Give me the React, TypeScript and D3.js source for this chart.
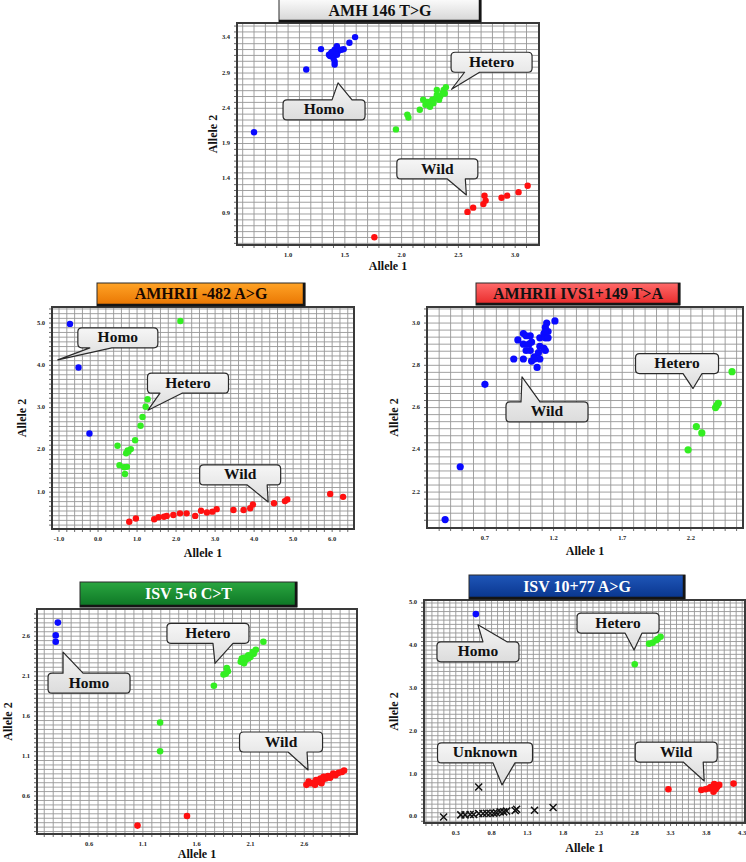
import React from 'react';
import * as d3 from 'd3';

type P = [number, number];

// AMH 146 T>G
const amhHomo: P[] = [[0.70, 2.06], [1.16, 2.95], [1.29, 3.24], [1.36, 3.16], [1.38, 3.19], [1.41, 3.23], [1.43, 3.28], [1.44, 3.21], [1.47, 3.23], [1.49, 3.24], [1.37, 3.14], [1.40, 3.11], [1.41, 3.06], [1.41, 3.02], [1.43, 3.16], [1.39, 3.20], [1.54, 3.33], [1.59, 3.41]];
const amhHetero: P[] = [[1.95, 2.10], [2.05, 2.31], [2.06, 2.27], [2.16, 2.38], [2.19, 2.52], [2.21, 2.45], [2.24, 2.47], [2.27, 2.52], [2.30, 2.54], [2.31, 2.59], [2.33, 2.52], [2.34, 2.57], [2.36, 2.61], [2.37, 2.66], [2.39, 2.70], [2.38, 2.61], [2.28, 2.47], [2.25, 2.42], [2.23, 2.49], [2.31, 2.66]];
const amhWild: P[] = [[1.76, 0.57], [2.58, 0.93], [2.63, 0.99], [2.72, 1.04], [2.73, 1.16], [2.74, 1.09], [2.88, 1.13], [2.93, 1.16], [3.03, 1.21], [3.11, 1.30]];

// AMHRII -482 A>G
const r482Homo: P[] = [[-0.72, 4.98], [-0.50, 3.95], [-0.22, 2.39]];
const r482Hetero: P[] = [[2.11, 5.05], [1.27, 3.20], [1.22, 3.02], [1.14, 2.78], [1.09, 2.57], [0.95, 2.23], [0.84, 2.02], [0.78, 1.96], [0.50, 2.10], [0.55, 1.64], [0.67, 1.59], [0.74, 1.60], [0.69, 1.43], [0.76, 1.99], [0.72, 1.92]];
const r482Wild: P[] = [[0.80, 0.30], [0.97, 0.38], [1.44, 0.36], [1.55, 0.41], [1.69, 0.42], [1.76, 0.44], [1.93, 0.46], [2.10, 0.50], [2.27, 0.50], [2.49, 0.44], [2.64, 0.56], [2.79, 0.52], [2.93, 0.54], [3.04, 0.60], [3.47, 0.58], [3.73, 0.58], [3.90, 0.62], [3.97, 0.71], [4.51, 0.74], [4.79, 0.79], [4.85, 0.83], [5.95, 0.96], [6.28, 0.89]];

// AMHRII IVS1+149 T>A
const ivsWild: P[] = [[0.41, 2.07], [0.52, 2.32], [0.70, 2.71], [0.91, 2.83], [0.98, 2.83], [0.94, 2.92], [0.98, 2.95], [1.00, 2.94], [1.03, 2.94], [1.04, 2.91], [0.98, 2.90], [1.03, 2.87], [1.06, 2.84], [1.04, 2.82], [1.08, 2.79], [1.09, 2.86], [1.10, 2.89], [1.10, 2.93], [1.13, 2.95], [1.14, 2.98], [1.16, 2.96], [1.14, 2.93], [1.16, 2.93], [1.13, 2.88], [1.14, 2.87], [1.10, 2.83], [1.06, 2.83], [1.14, 2.96], [1.21, 3.01], [1.15, 3.00], [1.00, 2.87], [1.02, 2.90]];
const ivsHetero: P[] = [[2.50, 2.77], [2.39, 2.61], [2.38, 2.60], [2.40, 2.62], [2.24, 2.51], [2.28, 2.48], [2.18, 2.40]];

// ISV 5-6 C>T
const isv56Homo: P[] = [[0.31, 2.77], [0.29, 2.61], [0.29, 2.53]];
const isv56Hetero: P[] = [[2.22, 2.53], [2.15, 2.43], [2.13, 2.38], [2.10, 2.34], [2.07, 2.32], [2.05, 2.30], [2.02, 2.30], [2.04, 2.26], [2.01, 2.28], [2.02, 2.32], [2.08, 2.36], [2.07, 2.34], [2.12, 2.40], [1.88, 2.20], [1.89, 2.16], [1.85, 2.12], [1.87, 2.13], [1.76, 1.98], [1.26, 1.52], [1.26, 1.16], [2.08, 2.32], [2.04, 2.33]];
const isv56Wild: P[] = [[1.05, 0.23], [1.51, 0.35], [2.62, 0.74], [2.64, 0.78], [2.66, 0.76], [2.69, 0.77], [2.71, 0.80], [2.73, 0.78], [2.75, 0.82], [2.77, 0.80], [2.78, 0.84], [2.80, 0.82], [2.82, 0.85], [2.84, 0.83], [2.86, 0.86], [2.87, 0.88], [2.89, 0.86], [2.92, 0.89], [2.95, 0.90], [2.97, 0.92], [2.70, 0.74], [2.76, 0.76]];

// ISV 10+77 A>G
const isv10Homo: P[] = [[0.58, 4.74]];
const isv10Hetero: P[] = [[2.80, 3.57], [3.00, 4.05], [3.05, 4.07], [3.12, 4.16], [3.16, 4.21], [3.10, 4.13]];
const isv10Wild: P[] = [[3.27, 0.65], [3.73, 0.63], [3.79, 0.65], [3.84, 0.67], [3.91, 0.77], [3.90, 0.59], [3.95, 0.70], [3.98, 0.75], [4.18, 0.78], [3.86, 0.70], [3.93, 0.65]];
const isv10Unknown: P[] = [[0.13, 0.00], [0.37, 0.05], [0.43, 0.05], [0.50, 0.06], [0.55, 0.06], [0.62, 0.08], [0.68, 0.08], [0.73, 0.09], [0.78, 0.09], [0.83, 0.09], [0.87, 0.10], [0.92, 0.12], [0.97, 0.12], [1.01, 0.14], [0.62, 0.70], [1.15, 0.18], [1.40, 0.16], [1.66, 0.22], [1.13, 0.15]];

// tick values
const amhXTicks = [1.0, 1.5, 2.0, 2.5, 3.0];
const amhYTicks = [0.9, 1.4, 1.9, 2.4, 2.9, 3.4];
const r482XTicks = [-1, 0, 1, 2, 3, 4, 5, 6];
const r482YTicks = [1, 2, 3, 4, 5];
const ivsXTicks = [0.7, 1.2, 1.7, 2.2];
const ivsYTicks = [2.2, 2.4, 2.6, 2.8, 3.0];
const isv56XTicks = [0.6, 1.1, 1.6, 2.1, 2.6];
const isv56YTicks = [0.6, 1.1, 1.6, 2.1, 2.6];
const isv10XTicks = [0.3, 0.8, 1.3, 1.8, 2.3, 2.8, 3.3, 3.8, 4.3];
const isv10YTicks = [0, 1, 2, 3, 4, 5];

const BLUE = '#0a0aff';
const GREEN = '#33ee22';
const RED = '#ff1010';
const SERIF = '"Liberation Serif", "Times New Roman", serif';

type Callout = { label: string; at: P; dx: number; dy: number; w: number; side: 'top' | 'bottom'; base: [number, number] };
type Series = { pts: P[]; color: string; cross?: boolean };
type Cfg = {
  id: string; title: string; frame: [number, number, number, number];
  xDomain: P; yDomain: P; xTicks: number[]; yTicks: number[]; xSub: number; ySub: number;
  titleBox: [number, number, number, number]; titleFill: [string, string]; titleColor: string;
  yTitleX: number; xTitleDy: number; r: number; series: Series[]; callouts: Callout[];
};

const panels: Cfg[] = [
  {
    id: 'p1', title: 'AMH 146 T>G', frame: [237, 23, 539, 245], xDomain: [0.55, 3.21], yDomain: [0.46, 3.61],
    xTicks: amhXTicks, yTicks: amhYTicks, xSub: 5, ySub: 6,
    titleBox: [279, -3, 481, 22], titleFill: ['#ffffff', '#d4d4d4'], titleColor: '#111',
    yTitleX: 214, xTitleDy: 22, r: 3.2,
    series: [{ pts: amhHomo, color: BLUE }, { pts: amhHetero, color: GREEN }, { pts: amhWild, color: RED }],
    callouts: [
      { label: 'Homo', at: [1.44, 2.76], dx: -14, dy: 27, w: 82, side: 'top', base: [-6, 14] },
      { label: 'Hetero', at: [2.44, 2.67], dx: 40, dy: -27, w: 81, side: 'bottom', base: [13, 28] },
      { label: 'Wild', at: [2.57, 1.17], dx: -29, dy: -26, w: 81, side: 'bottom', base: [-19, -1] },
    ],
  },
  {
    id: 'p2', title: 'AMHRII -482 A>G', frame: [52, 307, 354, 529], xDomain: [-1.18, 6.56], yDomain: [0.13, 5.38],
    xTicks: r482XTicks, yTicks: r482YTicks, xSub: 5, ySub: 9,
    titleBox: [97, 283, 305, 306], titleFill: ['#ffa326', '#e87400'], titleColor: '#1a0800',
    yTitleX: 23, xTitleDy: 25, r: 3.2,
    series: [{ pts: r482Homo, color: BLUE }, { pts: r482Hetero, color: GREEN }, { pts: r482Wild, color: RED }],
    callouts: [
      { label: 'Homo', at: [-1.03, 4.13], dx: 60, dy: -22, w: 80, side: 'bottom', base: [32, 54] },
      { label: 'Hetero', at: [1.28, 2.94], dx: 40, dy: -27, w: 81, side: 'bottom', base: [12, 34] },
      { label: 'Wild', at: [4.36, 0.77], dx: -28, dy: -27, w: 81, side: 'bottom', base: [-21, -1] },
    ],
  },
  {
    id: 'p3', title: 'AMHRII IVS1+149 T>A', frame: [427, 307, 743, 528], xDomain: [0.278, 2.58], yDomain: [2.03, 3.076],
    xTicks: ivsXTicks, yTicks: ivsYTicks, xSub: 6, ySub: 6,
    titleBox: [476, 283, 680, 305], titleFill: ['#ff6a6a', '#e82828'], titleColor: '#111',
    yTitleX: 395, xTitleDy: 24, r: 3.6,
    series: [{ pts: ivsWild, color: BLUE }, { pts: ivsHetero, color: GREEN }],
    callouts: [
      { label: 'Wild', at: [0.97, 2.745], dx: 25, dy: 35, w: 82, side: 'top', base: [-1, 18] },
      { label: 'Hetero', at: [2.216, 2.69], dx: -16, dy: -25, w: 83, side: 'bottom', base: [-10, 9] },
    ],
  },
  {
    id: 'p4', title: 'ISV 5-6 C>T', frame: [37, 609, 357, 834], xDomain: [0.116, 3.09], yDomain: [0.125, 2.94],
    xTicks: isv56XTicks, yTicks: isv56YTicks, xSub: 6, ySub: 9,
    titleBox: [80, 582, 297, 607], titleFill: ['#2aa640', '#0c7424'], titleColor: '#ffffff',
    yTitleX: 9, xTitleDy: 21, r: 3.3,
    series: [{ pts: isv56Homo, color: BLUE }, { pts: isv56Hetero, color: GREEN }, { pts: isv56Wild, color: RED }],
    callouts: [
      { label: 'Homo', at: [0.358, 2.40], dx: 26, dy: 31, w: 82, side: 'top', base: [0, 20] },
      { label: 'Hetero', at: [1.77, 2.26], dx: -7, dy: -30, w: 82, side: 'bottom', base: [-2, 18] },
      { label: 'Wild', at: [2.635, 0.926], dx: -27, dy: -28, w: 83, side: 'bottom', base: [-20, -1] },
    ],
  },
  {
    id: 'p5', title: 'ISV 10+77 A>G', frame: [424, 600, 745, 823], xDomain: [-0.144, 4.34], yDomain: [-0.14, 5.07],
    xTicks: isv10XTicks, yTicks: isv10YTicks, xSub: 6, ySub: 10,
    titleBox: [469, 575, 685, 599], titleFill: ['#1f56b8', '#08348c'], titleColor: '#ffffff',
    yTitleX: 395, xTitleDy: 26, r: 3.3,
    series: [{ pts: isv10Homo, color: BLUE }, { pts: isv10Hetero, color: GREEN }, { pts: isv10Wild, color: RED }, { pts: isv10Unknown, color: '#111', cross: true }],
    callouts: [
      { label: 'Homo', at: [0.61, 4.49], dx: 0, dy: 27, w: 82, side: 'top', base: [5, 29] },
      { label: 'Hetero', at: [2.79, 3.90], dx: -16, dy: -27, w: 82, side: 'bottom', base: [-9, 8] },
      { label: 'Unknown', at: [0.946, 0.75], dx: -17, dy: -32, w: 95, side: 'bottom', base: [-9, 13] },
      { label: 'Wild', at: [3.77, 0.84], dx: -28, dy: -29, w: 82, side: 'bottom', base: [-21, -1] },
    ],
  },
];

function gridVals(anchor: number, step: number, dom: P) {
  const out: number[] = [];
  const lo = Math.min(dom[0], dom[1]), hi = Math.max(dom[0], dom[1]);
  const k0 = Math.ceil((lo - anchor) / step - 1e-6), k1 = Math.floor((hi - anchor) / step + 1e-6);
  for (let k = k0; k <= k1; k++) out.push(anchor + k * step);
  return out.filter(v => v > lo + step * 0.2 && v < hi - step * 0.2);
}

// rounded box with a speech-bubble pointer on the top or bottom edge
function bubblePath(x0: number, y0: number, x1: number, y1: number, side: string, b0: number, b1: number, tx: number, ty: number) {
  const r = 4;
  let p = `M${x0 + r},${y0}`;
  if (side === 'top') p += `L${b0},${y0}L${tx},${ty}L${b1},${y0}`;
  p += `L${x1 - r},${y0}Q${x1},${y0} ${x1},${y0 + r}L${x1},${y1 - r}Q${x1},${y1} ${x1 - r},${y1}`;
  if (side === 'bottom') p += `L${b1},${y1}L${tx},${ty}L${b0},${y1}`;
  p += `L${x0 + r},${y1}Q${x0},${y1} ${x0},${y1 - r}L${x0},${y0 + r}Q${x0},${y0} ${x0 + r},${y0}Z`;
  return p;
}

function Panel({ cfg }: { cfg: Cfg }) {
  const [L, T, R, B] = cfg.frame;
  const x = d3.scaleLinear().domain(cfg.xDomain).range([L, R]);
  const y = d3.scaleLinear().domain(cfg.yDomain).range([B, T]);
  const xStep = cfg.xTicks[1] - cfg.xTicks[0];
  const yStep = cfg.yTicks[1] - cfg.yTicks[0];
  const xGrid = gridVals(cfg.xTicks[0], xStep / cfg.xSub, cfg.xDomain);
  const yGrid = gridVals(cfg.yTicks[0], yStep / cfg.ySub, cfg.yDomain);
  const [tx0, ty0, tx1, ty1] = cfg.titleBox;

  return (
    <g>
      <defs>
        <linearGradient id={`tg-${cfg.id}`} x1="0" y1="0" x2="0" y2="1">
          <stop offset="0" stopColor={cfg.titleFill[0]} />
          <stop offset="1" stopColor={cfg.titleFill[1]} />
        </linearGradient>
      </defs>
      <rect x={L} y={T} width={R - L} height={B - T} fill="#fff" />
      {xGrid.map((v, i) => (
        <line key={'gx' + i} x1={x(v)} x2={x(v)} y1={T} y2={B} stroke="#969696" strokeWidth={0.9} />
      ))}
      {yGrid.map((v, i) => (
        <line key={'gy' + i} x1={L} x2={R} y1={y(v)} y2={y(v)} stroke="#969696" strokeWidth={0.9} />
      ))}
      {xGrid.map((v, i) => (
        <line key={'tx' + i} x1={x(v)} x2={x(v)} y1={B} y2={B + 3} stroke="#444" strokeWidth={0.8} />
      ))}
      {yGrid.map((v, i) => (
        <line key={'ty' + i} x1={L - 3} x2={L} y1={y(v)} y2={y(v)} stroke="#444" strokeWidth={0.8} />
      ))}
      <rect x={L} y={T} width={R - L} height={B - T} fill="none" stroke="#3a3a3a" strokeWidth={2} />
      {cfg.xTicks.map((v, i) => (
        <text key={'xl' + i} x={x(v)} y={B + 11} fontSize={6.5} fontWeight="bold" fontFamily={SERIF}
          textAnchor="middle" dominantBaseline="middle" fill="#222">{v.toFixed(1)}</text>
      ))}
      {cfg.yTicks.map((v, i) => (
        <text key={'yl' + i} x={L - 7} y={y(v)} fontSize={6.5} fontWeight="bold" fontFamily={SERIF}
          textAnchor="end" dominantBaseline="middle" fill="#222">{v.toFixed(1)}</text>
      ))}
      <text x={(L + R) / 2} y={B + cfg.xTitleDy} fontSize={12} fontWeight="bold" fontFamily={SERIF}
        textAnchor="middle" dominantBaseline="middle" fill="#111">Allele 1</text>
      <text transform={`translate(${cfg.yTitleX},${(T + B) / 2}) rotate(-90)`} fontSize={12} fontWeight="bold"
        fontFamily={SERIF} textAnchor="middle" dominantBaseline="middle" fill="#111">Allele 2</text>

      {cfg.series.map((s, si) => (
        <g key={'s' + si}>
          {s.pts.map((d, i) => s.cross ? (
            <path key={i} d={`M${x(d[0]) - 3.5},${y(d[1]) - 3.5}L${x(d[0]) + 3.5},${y(d[1]) + 3.5}M${x(d[0]) - 3.5},${y(d[1]) + 3.5}L${x(d[0]) + 3.5},${y(d[1]) - 3.5}`}
              stroke={s.color} strokeWidth={1.5} fill="none" />
          ) : (
            <circle key={i} cx={x(d[0])} cy={y(d[1])} r={cfg.r} fill={s.color} />
          ))}
        </g>
      ))}

      {cfg.callouts.map((c, i) => {
        const px = x(c.at[0]), py = y(c.at[1]);
        const cx = px + c.dx, cy = py + c.dy, h = 20;
        const bx0 = cx - c.w / 2, by0 = cy - h / 2, bx1 = cx + c.w / 2, by1 = cy + h / 2;
        return (
          <g key={'c' + i}>
            <path d={bubblePath(bx0, by0, bx1, by1, c.side, px + c.base[0], px + c.base[1], px, py)}
              fill="url(#bubble)" stroke="#2a2a2a" strokeWidth={1.2} strokeLinejoin="round" />
            <text x={cx} y={cy + 1} fontSize={15.5} fontWeight="bold" fontFamily={SERIF}
              textAnchor="middle" dominantBaseline="middle" fill="#111">{c.label}</text>
          </g>
        );
      })}

      <rect x={tx0} y={ty0} width={tx1 - tx0} height={ty1 - ty0} fill={`url(#tg-${cfg.id})`} stroke="#2a2a2a" strokeWidth={1} />
      <line x1={tx1 - 1} x2={tx1 - 1} y1={ty0} y2={ty1} stroke="#151515" strokeWidth={2.5} />
      <line x1={tx0} x2={tx1} y1={ty1 - 1} y2={ty1 - 1} stroke="#151515" strokeWidth={2.5} />
      <text x={(tx0 + tx1) / 2} y={(Math.max(ty0, 0) + ty1) / 2 + 1} fontSize={16} fontWeight="bold" fontFamily={SERIF}
        textAnchor="middle" dominantBaseline="middle" fill={cfg.titleColor}>{cfg.title}</text>
    </g>
  );
}

export default function App() {
  return (
    <svg width={746} height={862} style={{ position: 'absolute', left: 0, top: 0, background: '#fff' }}>
      <defs>
        <linearGradient id="bubble" x1="0" y1="0" x2="0" y2="1">
          <stop offset="0" stopColor="#f6f6f6" />
          <stop offset="1" stopColor="#dcdcdc" />
        </linearGradient>
      </defs>
      <rect width={746} height={862} fill="#fff" />
      {panels.map(p => <Panel key={p.id} cfg={p} />)}
    </svg>
  );
}
